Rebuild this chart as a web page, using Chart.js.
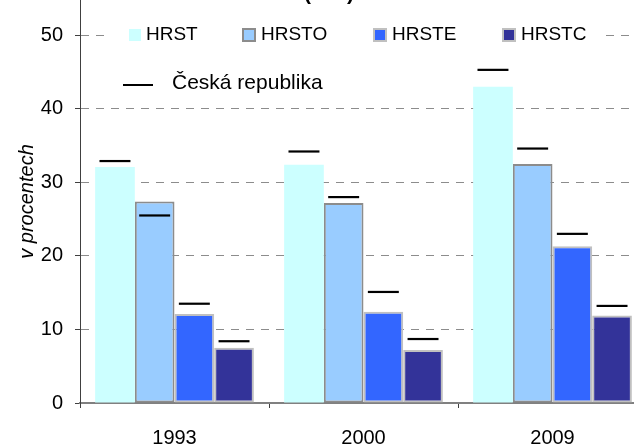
<!DOCTYPE html>
<html>
<head>
<meta charset="utf-8">
<script src="https://cdn.jsdelivr.net/npm/chart.js@4.4.0/dist/chart.umd.min.js"></script>
<style>
  html, body { margin: 0; padding: 0; overflow: hidden; background: #fff; }
  #wrap { width: 634px; height: 444px; overflow: hidden; position: relative; }
  #chart { position: absolute; left: 0; top: 0; }
</style>
</head>
<body>
<div id="wrap"><canvas id="chart" width="647" height="444"></canvas></div>
<script>
// categories and values (v procentech)
const years = ["1993", "2000", "2009"];
const seriesNames = ["HRST", "HRSTO", "HRSTE", "HRSTC"];
const hrst = [32.1, 32.4, 43.0];
const hrsto = [27.4, 27.2, 32.5];
const hrste = [12.1, 12.4, 21.3];
const hrstc = [7.5, 7.2, 11.9];

// Česká republika - reference marks
const czName = "Česká republika";
const czHrst = [32.9, 34.2, 45.3];
const czHrsto = [25.5, 28.0, 34.6];
const czHrste = [13.5, 15.1, 23.0];
const czHrstc = [8.4, 8.7, 13.2];

const yTicks = [0, 10, 20, 30, 40, 50];
const titleText = "(v %)";
const yTitle = "v procentech";

const fillColors = ['#CCFFFF', '#99CCFF', '#3366FF', '#333399'];
const edgeColors = ['#CCFFFF', '#8C8C8C', '#C0C0C0', '#C0C0C0'];
const edgeWidths = [0, 2, 2, 2];

const FONT = '"Liberation Sans", Arial, sans-serif';
Chart.defaults.font.family = FONT;
Chart.defaults.color = '#000';

const values = [hrst, hrsto, hrste, hrstc];
const czValues = [czHrst, czHrsto, czHrste, czHrstc];

const datasets = [];
// short black dashes for Česká republika, same column as matching bar
czValues.forEach((vals, i) => {
    datasets.push({
        label: czName,
        data: vals.map(v => [v - 0.15, v + 0.15]),
        backgroundColor: '#000',
        borderWidth: 0,
        stack: 's' + i,
        order: 0,
        barPercentage: 0.78,
        categoryPercentage: 0.84
    });
});
values.forEach((vals, i) => {
    datasets.push({
        label: seriesNames[i],
        data: vals,
        backgroundColor: fillColors[i],
        borderColor: edgeColors[i],
        borderWidth: edgeWidths[i],
        borderSkipped: false,
        stack: 's' + i,
        order: 1,
        barPercentage: 1,
        categoryPercentage: 0.84
    });
});

// legend drawn inside the plot, like the original
const legendPlugin = {
    id: 'innerLegend',
    beforeDatasetsDraw(chart) {
        const ctx = chart.ctx;
        ctx.save();
        ctx.fillStyle = '#fff';
        ctx.fillRect(104, 22, 502, 24);
        ctx.restore();
    },
    afterDraw(chart) {
        const ctx = chart.ctx;
        const swX = [129, 242, 373, 502];
        ctx.save();
        ctx.font = '19px ' + FONT;
        ctx.textBaseline = 'middle';
        ctx.fillStyle = '#000';
        seriesNames.forEach((name, i) => {
            const x = swX[i];
            if (edgeWidths[i] > 0) {
                ctx.fillStyle = edgeColors[i];
                ctx.fillRect(x, 28, 14, 14);
                ctx.fillStyle = fillColors[i];
                ctx.fillRect(x + 2, 30, 10, 10);
            } else {
                ctx.fillStyle = fillColors[i];
                ctx.fillRect(x, 29, 12, 12);
            }
            ctx.fillStyle = '#000';
            ctx.fillText(name, x + (edgeWidths[i] > 0 ? 19 : 17), 35);
        });
        // second row
        ctx.fillRect(123, 84, 30, 2);
        ctx.font = '21px ' + FONT;
        ctx.fillText(czName, 172, 83);
        // title, mostly above the visible area
        ctx.font = 'bold 21px ' + FONT;
        ctx.textAlign = 'center';
        ctx.textBaseline = 'alphabetic';
        ctx.fillText(titleText, 329, 0);
        ctx.restore();
    }
};

const ctx = document.getElementById('chart').getContext('2d');
const chart = new Chart(ctx, {
    type: 'bar',
    data: { labels: years, datasets: datasets },
    options: {
        responsive: false,
        animation: false,
        devicePixelRatio: 1,
        layout: { padding: 0 },
        plugins: {
            legend: { display: false },
            title: { display: false },
            tooltip: { enabled: false }
        },
        scales: {
            x: {
                offset: true,
                grid: {
                    offset: true,
                    drawOnChartArea: false,
                    drawTicks: true,
                    tickLength: 5,
                    tickColor: '#404040'
                },
                border: { color: '#808080', width: 2 },
                ticks: { font: { size: 20 }, color: '#000', padding: 18 },
                afterFit: s => { s.height = 41; s.paddingLeft = 0; s.paddingRight = 0; }
            },
            y: {
                min: 0,
                max: 54.8,
                stacked: false,
                afterBuildTicks: s => { s.ticks = yTicks.map(v => ({ value: v })); },
                afterFit: s => { s.width = 80; s.paddingTop = 0; s.paddingBottom = 0; },
                ticks: { font: { size: 20 }, color: '#000', padding: 12 },
                grid: {
                    color: c => (c.tick && c.tick.value === 0) ? 'rgba(0,0,0,0)' : '#8C8C8C',
                    lineWidth: 1,
                    tickLength: 5,
                    tickColor: '#404040',
                    tickBorderDash: []
                },
                border: { display: true, color: '#404040', width: 1, dash: [8, 7] },
                title: {
                    display: true,
                    text: yTitle,
                    font: { size: 20, style: 'italic' },
                    color: '#000',
                    padding: { top: 15, bottom: 0 }
                }
            }
        }
    },
    plugins: [legendPlugin]
});
</script>
</body>
</html>
